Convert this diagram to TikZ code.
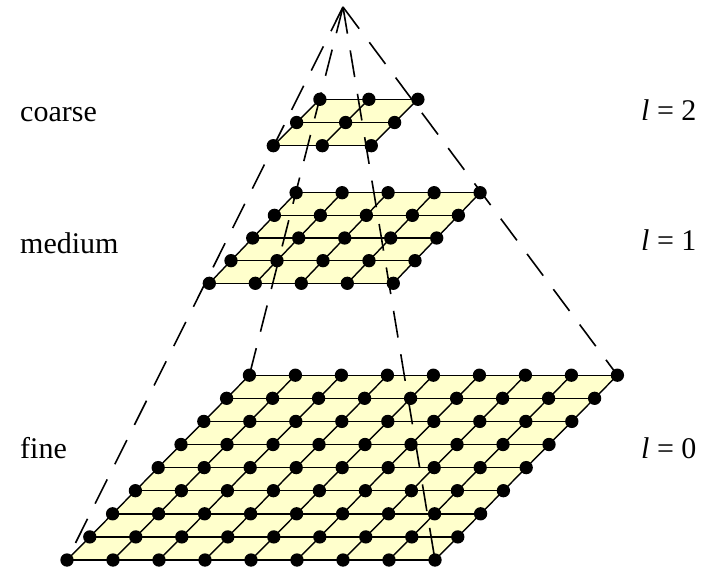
\documentclass[tikz,border=0pt]{standalone}
\usepackage{fontspec}
\setmainfont{Liberation Serif}
\usetikzlibrary{backgrounds}
\definecolor{gridfill}{RGB}{255, 255, 204}

\begin{document}
\begin{tikzpicture}[
        x=1pt, y=-1pt,
        dot/.style={circle, fill=black, inner sep=0pt, minimum size=13.3pt},
        gridline/.style={line width=1.4pt},
        pyr/.style={dashed, dash pattern=on 27pt off 17pt, line width=1.6pt},
        level/.style={anchor=base west, inner sep=0pt, font=\fontsize{30}{36}\selectfont},
    ]
        \useasboundingbox (0,0) rectangle (706,568);

        % grid points of the three levels
        \foreach \n/\ox/\oy/\k/\s/\vx/\vy in {f/67/560/8/46/22.8/-23.1,
                                            m/209.3/283.3/4/46/21.7/-22.65,
                                            c/273.3/145.7/2/49/23.3/-23.2}
            \foreach \i in {0,...,\k}
                \foreach \j in {0,...,\k}
                    \node[dot] (\n-\i-\j) at ({\ox+\s*\i+\vx*\j},{\oy+\vy*\j}) {};

        \coordinate (apex) at (343,7);

        \begin{pgfonlayer}{background}
            \foreach \n/\k in {f/8, m/4, c/2}{
                \fill[gridfill] (\n-0-0.center) -- (\n-\k-0.center) -- (\n-\k-\k.center) -- (\n-0-\k.center) -- cycle;
                \foreach \i in {0,...,\k}{
                    \draw[gridline] (\n-\i-0.center) -- (\n-\i-\k.center);
                    \draw[gridline] (\n-0-\i.center) -- (\n-\k-\i.center);
                }
            }
            % pyramid edges
            \foreach \c in {f-0-0, f-8-0, f-0-8, f-8-8}
                \draw[pyr] (apex) -- (\c.center);
        \end{pgfonlayer}

        \node[level] (coarse) at (20,121) {coarse};
        \node[level] (medium) at (20,253) {medium};
        \node[level] (fine) at (20,458) {fine};
        \node[level] (l2) at (641,120) {\textit{l} = 2};
        \node[level] (l1) at (641,250) {\textit{l} = 1};
        \node[level] (l0) at (641,458) {\textit{l} = 0};
\end{tikzpicture}
\end{document}
